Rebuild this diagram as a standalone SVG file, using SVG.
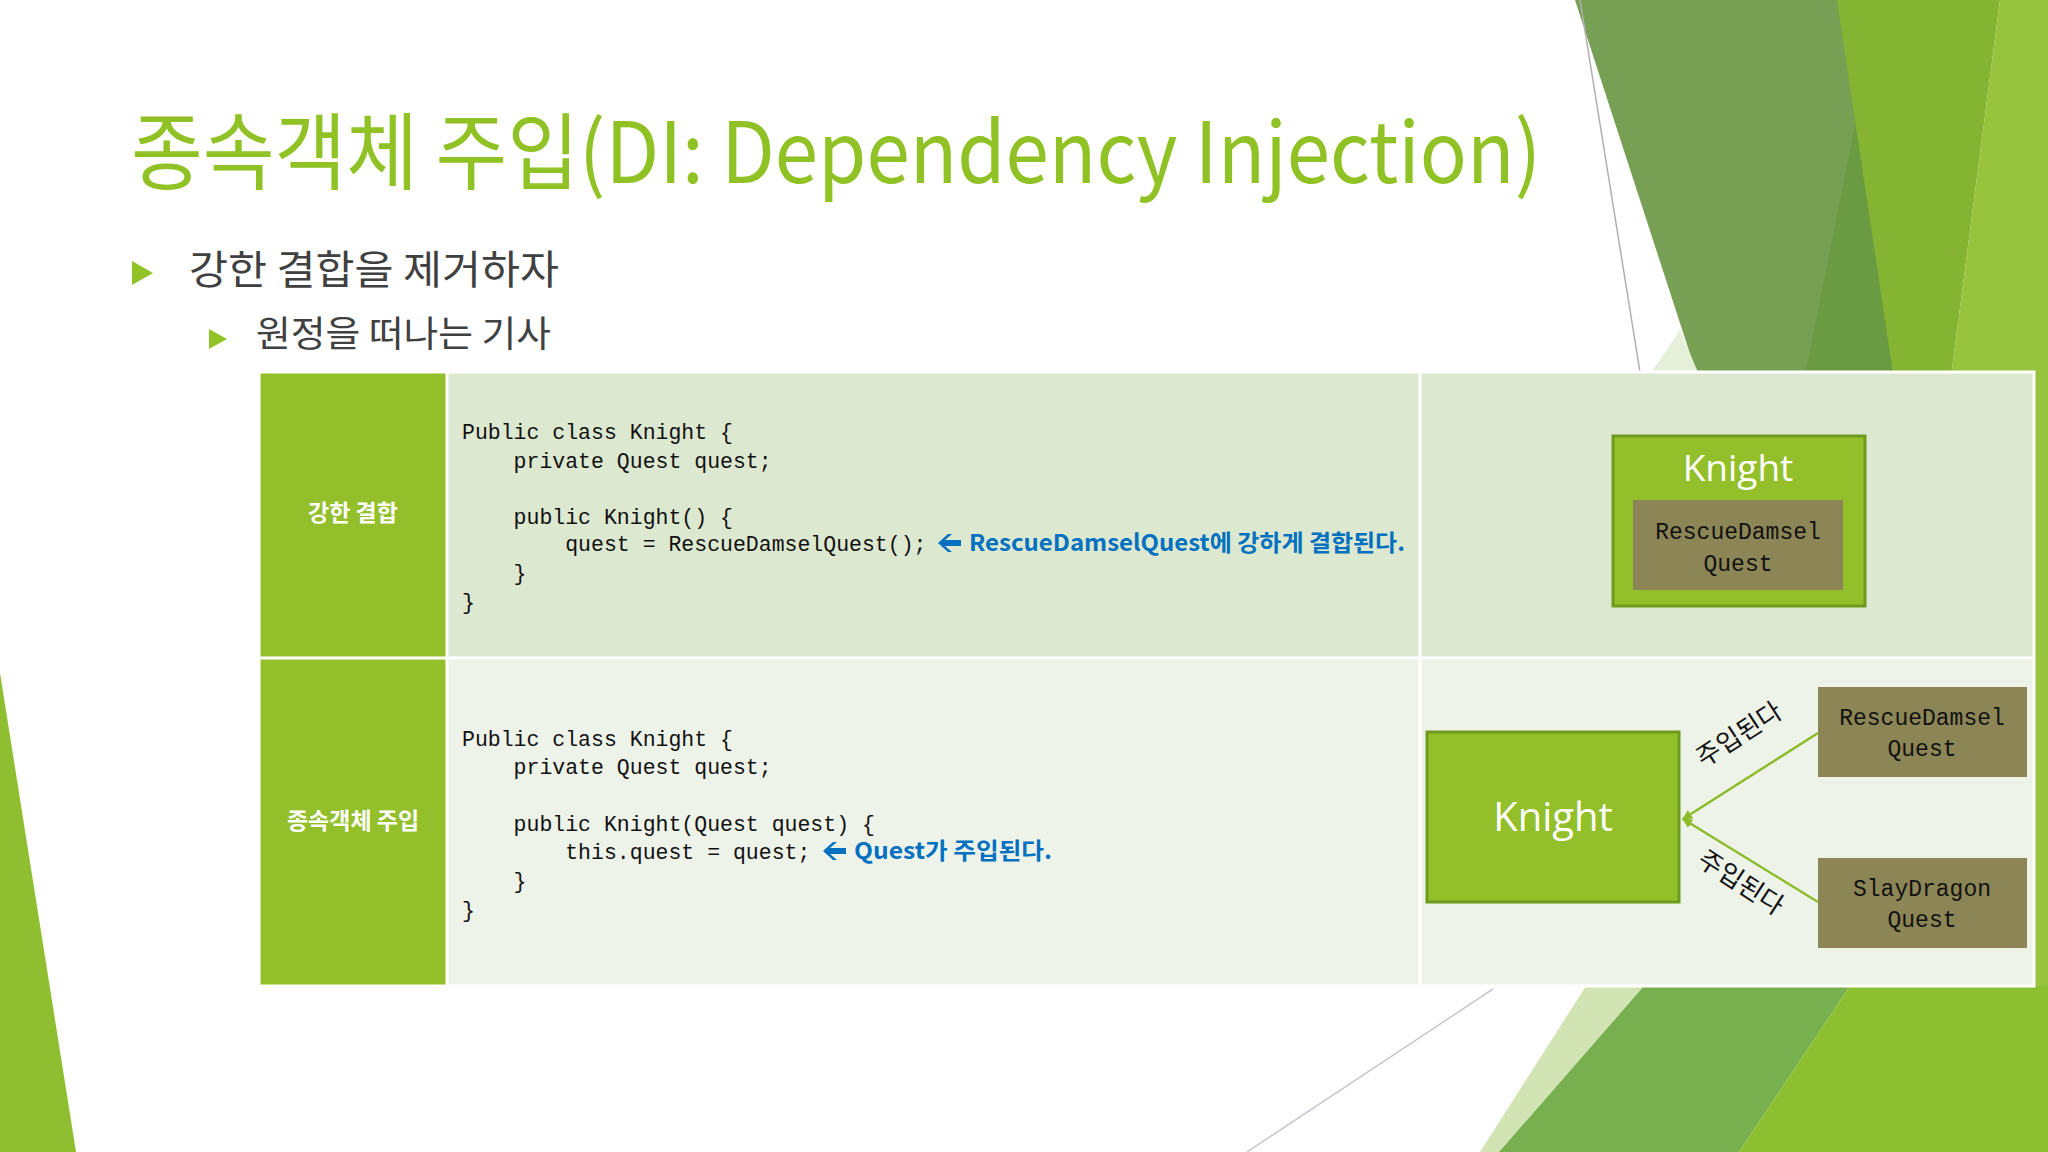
<svg xmlns="http://www.w3.org/2000/svg" width="2048" height="1152" viewBox="0 0 2048 1152">
<defs>
<style>
.kr{font-family:"Noto Sans CJK KR","Noto Sans",sans-serif}
.code{font-family:"Liberation Mono","DejaVu Sans Mono",monospace;font-size:21.5px;fill:#111;white-space:pre}
.blue{font-family:"Noto Sans CJK KR","Noto Sans",sans-serif;font-size:23px;font-weight:bold;fill:#0070c0}
.hdr{font-family:"Noto Sans CJK KR",sans-serif;font-size:23px;font-weight:bold;fill:#fff;text-anchor:middle}
.qt{font-family:"Liberation Mono","DejaVu Sans Mono",monospace;font-size:23px;fill:#111;text-anchor:middle}
.kn{font-family:"Open Sans","Noto Sans",sans-serif;fill:#fff;text-anchor:middle}
.lbl{font-family:"Noto Sans CJK KR",sans-serif;font-size:26px;fill:#111;text-anchor:middle}
.barr{fill:#0070c0}
</style>
<marker id="ah" viewBox="0 0 10 10" refX="9" refY="5" markerWidth="4" markerHeight="4" orient="auto"><path d="M0,0L10,5L0,10z" fill="#8dbb2b"/></marker>
<path id="bl" d="M0,0L10,-9L14,-9L7,-3L23,-3L23,3L7,3L14,9L10,9Z"/>
</defs>
<rect width="2048" height="1152" fill="#fff"/>
<polygon points="1575,0 1850,0 1910,400 1705,400" fill="#77a055"/>
<polygon points="1857,115 1910,400 1800,400" fill="#6a9a42"/>
<polygon points="1837,0 2000,0 1948,400 1897,400" fill="#84b431"/>
<polygon points="2000,0 2048,0 2048,400 1948,400" fill="#97c43c"/>
<polygon points="1640,389 1705,389 1680,330" fill="#e6f0d8"/>
<line x1="1580" y1="0" x2="1640" y2="372" stroke="#b0b0b0" stroke-width="1.5"/>
<rect x="2030" y="380" width="18" height="620" fill="#97c43c"/>
<polygon points="1586,986 1644,986 1499,1152 1480,1152" fill="#d2e4b4"/>
<polygon points="1644,986 1850,986 1739,1152 1499,1152" fill="#78b050"/>
<polygon points="1850,986 2048,986 2048,1152 1739,1152" fill="#8dc030"/>
<line x1="1493" y1="989" x2="1247" y2="1152" stroke="#c8c8d0" stroke-width="1.5"/>
<polygon points="0,673 76,1152 0,1152" fill="#8fbf30"/>
<text x="131" y="183" class="kr" font-size="84" fill="#90c226" textLength="1410" lengthAdjust="spacingAndGlyphs">종속객체 주입(DI: Dependency Injection)</text>
<polygon points="132,261 153,273 132,285" fill="#90c226"/>
<text x="189" y="284" class="kr" font-size="40" fill="#404040" textLength="370" lengthAdjust="spacingAndGlyphs">강한 결합을 제거하자</text>
<polygon points="209,329 227,339 209,349" fill="#90c226"/>
<text x="256" y="347" class="kr" font-size="36" fill="#404040" textLength="295" lengthAdjust="spacingAndGlyphs">원정을 떠나는 기사</text>
<g id="table">
<rect x="259" y="372" width="188" height="286" fill="#93c02a"/>
<rect x="259" y="658" width="188" height="328" fill="#93c02a"/>
<rect x="447" y="372" width="1587" height="286" fill="#dde8d0"/>
<rect x="447" y="658" width="1587" height="328" fill="#eef3e9"/>
<line x1="259" y1="658" x2="2034" y2="658" stroke="#fff" stroke-width="3"/>
<line x1="447" y1="372" x2="447" y2="986" stroke="#fff" stroke-width="3"/>
<line x1="1420" y1="372" x2="1420" y2="986" stroke="#fff" stroke-width="3"/>
<rect x="259" y="372" width="1775" height="614" fill="none" stroke="#fff" stroke-width="3"/>
<text x="353" y="521" class="hdr">강한 결합</text>
<text x="353" y="829" class="hdr">종속객체 주입</text>
</g>
<g id="code1">
<text x="462" y="439" class="code">Public class Knight {</text>
<text x="462" y="468" class="code">    private Quest quest;</text>
<text x="462" y="524" class="code">    public Knight() {</text>
<text x="462" y="551" class="code">        quest = RescueDamselQuest();</text>
<text x="462" y="580" class="code">    }</text>
<text x="462" y="609" class="code">}</text>
<use href="#bl" x="938" y="543" class="barr"/>
<text x="969" y="551" class="blue" textLength="436" lengthAdjust="spacingAndGlyphs">RescueDamselQuest에 강하게 결합된다.</text>
</g>
<g id="code2">
<text x="462" y="746" class="code">Public class Knight {</text>
<text x="462" y="774" class="code">    private Quest quest;</text>
<text x="462" y="831" class="code">    public Knight(Quest quest) {</text>
<text x="462" y="859" class="code">        this.quest = quest;</text>
<text x="462" y="888" class="code">    }</text>
<text x="462" y="917" class="code">}</text>
<use href="#bl" x="823" y="851" class="barr"/>
<text x="854" y="859" class="blue" textLength="198" lengthAdjust="spacingAndGlyphs">Quest가 주입된다.</text>
</g>
<g id="knight1">
<rect x="1613" y="436" width="252" height="170" fill="#93c02a" stroke="#6e9a1e" stroke-width="3"/>
<text x="1738" y="481" class="kn" font-size="37">Knight</text>
</g>
<g id="rescue1">
<rect x="1633" y="500" width="210" height="90" fill="#8c8556"/>
<text x="1738" y="539" class="qt">RescueDamsel</text>
<text x="1738" y="571" class="qt">Quest</text>
</g>
<g id="knight2">
<rect x="1427" y="732" width="252" height="170" fill="#93c02a" stroke="#6e9a1e" stroke-width="3"/>
<text x="1553" y="831" class="kn" font-size="40">Knight</text>
</g>
<g id="rescue2">
<rect x="1818" y="687" width="209" height="90" fill="#8c8556"/>
<text x="1922" y="725" class="qt">RescueDamsel</text>
<text x="1922" y="756" class="qt">Quest</text>
</g>
<g id="slay">
<rect x="1818" y="858" width="209" height="90" fill="#8c8556"/>
<text x="1922" y="896" class="qt">SlayDragon</text>
<text x="1922" y="927" class="qt">Quest</text>
</g>
<g id="connectors">
<line x1="1818" y1="733" x2="1683" y2="819" stroke="#8dbb2b" stroke-width="2.5" marker-end="url(#ah)"/>
<line x1="1818" y1="902" x2="1683" y2="819" stroke="#8dbb2b" stroke-width="2.5" marker-end="url(#ah)"/>
<text transform="translate(1744,742) rotate(-33)" class="lbl">주입된다</text>
<text transform="translate(1736,890) rotate(33)" class="lbl">주입된다</text>
</g>
</svg>
